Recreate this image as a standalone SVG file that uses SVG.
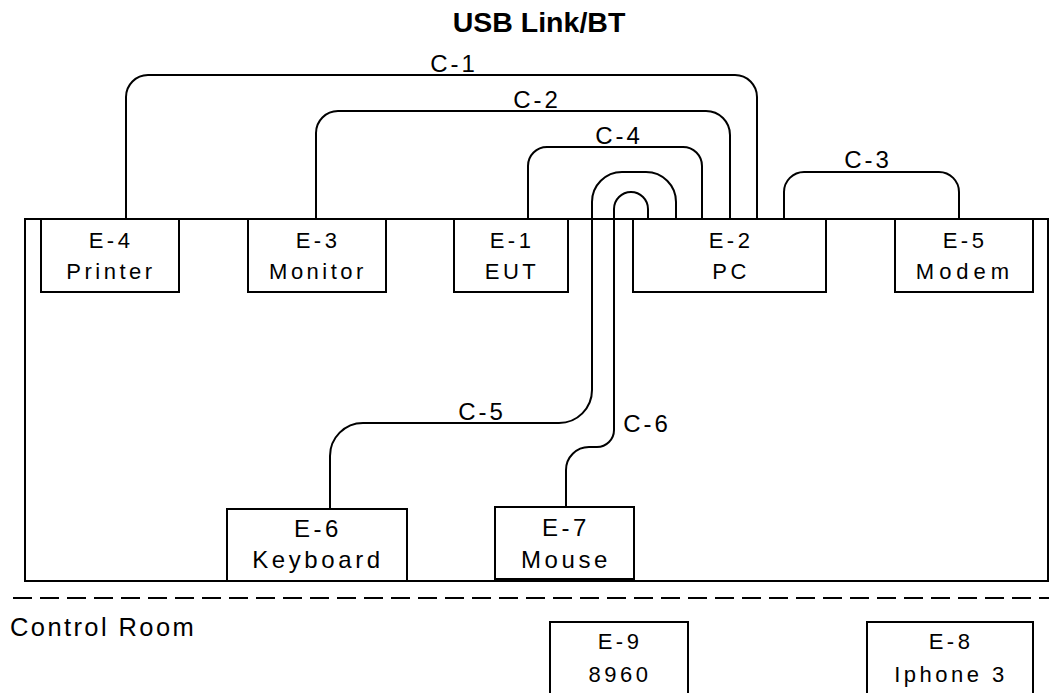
<svg xmlns="http://www.w3.org/2000/svg" width="1049" height="693" viewBox="0 0 1049 693">
<style>
.box{fill:#fff;stroke:#000;stroke-width:2}
.ln{fill:none;stroke:#000;stroke-width:2}
text{font-family:"Liberation Sans",Arial,sans-serif;fill:#000}
.lb{font-size:22px;letter-spacing:3.5px;text-anchor:middle}
.cl{font-size:24px;letter-spacing:3px;text-anchor:middle}
.w{letter-spacing:5px}
.big{font-size:24px;letter-spacing:3.6px}
</style>
<rect width="1049" height="693" fill="#fff"/>
<text x="539" y="32" font-size="28.5" font-weight="bold" text-anchor="middle">USB Link/BT</text>
<g id="room">
<rect x="25" y="219" width="1023" height="362" class="ln"/>
</g>
<g id="divider">
<line x1="13" y1="598" x2="1049" y2="598" class="ln" stroke-dasharray="19,8"/>
<text x="10" y="636" font-size="25.5" letter-spacing="2.4">Control Room</text>
</g>
<g id="connectors">
<path class="ln" d="M126,219 V97 A22,22 0 0 1 148,75 H735 A22,22 0 0 1 757,97 V219"/>
<path class="ln" d="M316,219 V133 A22,22 0 0 1 338,111 H706 A24,24 0 0 1 730,135 V219"/>
<path class="ln" d="M528,219 V166 A19,19 0 0 1 547,147 H683 A19,19 0 0 1 702,166 V219"/>
<path class="ln" d="M784,219 V192 A20,20 0 0 1 804,172 H939 A20,20 0 0 1 959,192 V219"/>
<path class="ln" d="M676,219 V202 A30,30 0 0 0 646,172 H622 A30,30 0 0 0 592,202 V390 A33,33 0 0 1 559,423 H363 A33,33 0 0 0 330,456 V509"/>
<path class="ln" d="M648,219 V209 A17,17 0 0 0 614,209 V430 A17,17 0 0 1 597,447 H589 A23,23 0 0 0 566,470 V507"/>
<text class="cl" x="454" y="72">C-1</text>
<text class="cl" x="537" y="108">C-2</text>
<text class="cl" x="619" y="144">C-4</text>
<text class="cl" x="868" y="168">C-3</text>
<text class="cl" x="482" y="420">C-5</text>
<text class="cl" x="647" y="432">C-6</text>
</g>
<g id="E-4"><rect class="box" x="41" y="219" width="138" height="73"/><text class="lb" x="111" y="248">E-4</text><text class="lb" x="111" y="279">Printer</text></g>
<g id="E-3"><rect class="box" x="248" y="219" width="138" height="73"/><text class="lb" x="318" y="248">E-3</text><text class="lb" x="318" y="279">Monitor</text></g>
<g id="E-1"><rect class="box" x="454" y="219" width="114" height="73"/><text class="lb" x="512" y="248">E-1</text><text class="lb" x="512" y="279">EUT</text></g>
<g id="E-2"><rect class="box" x="633" y="219" width="193" height="73"/><text class="lb" x="731" y="248">E-2</text><text class="lb" x="731" y="279">PC</text></g>
<g id="E-5"><rect class="box" x="895" y="219" width="138" height="73"/><text class="lb" x="965" y="248">E-5</text><text class="lb w" x="965" y="279">Modem</text></g>
<g id="E-6"><rect class="box" x="227" y="509" width="180" height="72"/><text class="lb big" x="318" y="537">E-6</text><text class="lb big" x="318" y="568">Keyboard</text></g>
<g id="E-7"><rect class="box" x="495" y="507" width="139" height="72"/><text class="lb big" x="566" y="536">E-7</text><text class="lb big" x="566" y="568">Mouse</text></g>
<g id="E-9"><rect class="box" x="550" y="622" width="138" height="80"/><text class="lb" x="620" y="649">E-9</text><text class="lb" x="620" y="682">8960</text></g>
<g id="E-8"><rect class="box" x="867" y="622" width="166" height="80"/><text class="lb" x="951" y="649">E-8</text><text class="lb" x="951" y="682" letter-spacing="4.5">Iphone 3</text></g>
</svg>
